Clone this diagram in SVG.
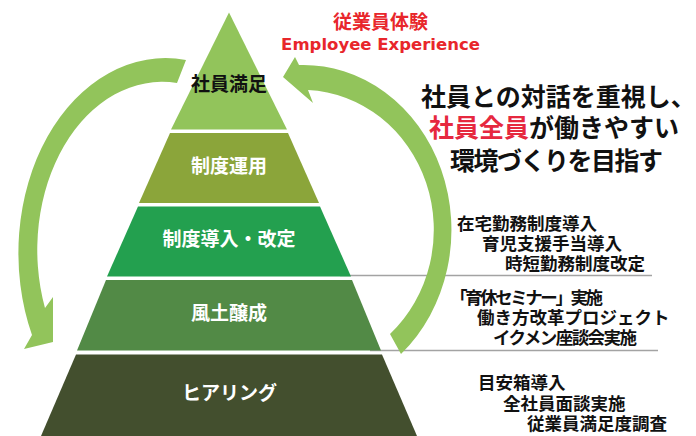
<svg xmlns="http://www.w3.org/2000/svg" width="696" height="436" viewBox="0 0 696 436">
<style>
.jp{font-family:"Noto Sans CJK JP","Noto Sans",sans-serif;font-weight:700}
.lbl{font-size:19px;fill:#fff;text-anchor:middle}
.dark{fill:#111}
.item{font-size:17.5px;fill:#111}
.big{font-size:25px;fill:#111}
.red{fill:#E8262B}
.pink{fill:#E6283F}
.arrow{fill:#92C45B}
.sep{stroke:#A3A3A3;stroke-width:1.5;fill:none}
</style>
<rect width="696" height="436" fill="#fff"/>
<g id="separators">
<line class="sep" x1="340" y1="275.5" x2="652" y2="275.5"/>
<line class="sep" x1="370" y1="350.5" x2="658" y2="350.5"/>
</g>
<g id="connectors">
<path class="arrow" d="M186,60 A147,195 0 0 0 32,335 L24,349 L53,342 L53,297 L45,308 A125,168 0 0 1 177,83 Z"/>
<path class="arrow" d="M401,354 A148,165 0 0 0 299,65 L295,57 L283,77 L313,103 L308,90 A132,140 0 0 1 390,334 Z"/>
</g>
<g id="tier1">
<polygon points="229,12.5 287,129.5 171,129.5" fill="#92C45B"/>
<text class="jp lbl dark" x="229" y="90.7">社員満足</text>
</g>
<g id="tier2">
<polygon points="170,133 288,133 319,203 139,203" fill="#8BA53A"/>
<text class="jp lbl" x="229" y="172.7">制度運用</text>
</g>
<g id="tier3">
<polygon points="138,206.5 320,206.5 351,276.5 107,276.5" fill="#23A04F"/>
<text class="jp lbl" x="229" y="246.2">制度導入・改定</text>
</g>
<g id="tier4">
<polygon points="106,280 352,280 381,350.5 77,350.5" fill="#528A46"/>
<text class="jp lbl" x="229" y="320.2">風土醸成</text>
</g>
<g id="tier5">
<polygon points="76,354.5 382,354.5 417,436 41,436" fill="#434F2E"/>
<text class="jp lbl" x="229.5" y="399.7">ヒアリング</text>
</g>
<g id="title">
<text class="jp red" x="333" y="28.7" font-size="19">従業員体験</text>
<text class="red" x="380.5" y="50" font-size="16.5" font-family="'DejaVu Sans',Verdana,sans-serif" font-weight="700" text-anchor="middle">Employee Experience</text>
</g>
<g id="message">
<text class="jp big" x="421" y="105.5">社員との対話を重視し、</text>
<text class="jp big" x="429" y="136.5"><tspan class="pink">社員全員</tspan>が働きやすい</text>
<text class="jp big" x="450" y="169.5" textLength="213" lengthAdjust="spacing">環境づくりを目指す</text>
</g>
<g id="items-system">
<text class="jp item" x="457" y="229.7">在宅勤務制度導入</text>
<text class="jp item" x="482" y="250.2">育児支援手当導入</text>
<text class="jp item" x="505" y="270">時短勤務制度改定</text>
</g>
<g id="items-culture">
<text class="jp item" x="450" y="304" textLength="153" lengthAdjust="spacing">「育休セミナー」実施</text>
<text class="jp item" x="477" y="324">働き方改革プロジェクト</text>
<text class="jp item" x="493" y="343.5" textLength="144" lengthAdjust="spacing">イクメン座談会実施</text>
</g>
<g id="items-hearing">
<text class="jp item" x="478" y="389">目安箱導入</text>
<text class="jp item" x="503" y="410">全社員面談実施</text>
<text class="jp item" x="527" y="429.7">従業員満足度調査</text>
</g>
</svg>
